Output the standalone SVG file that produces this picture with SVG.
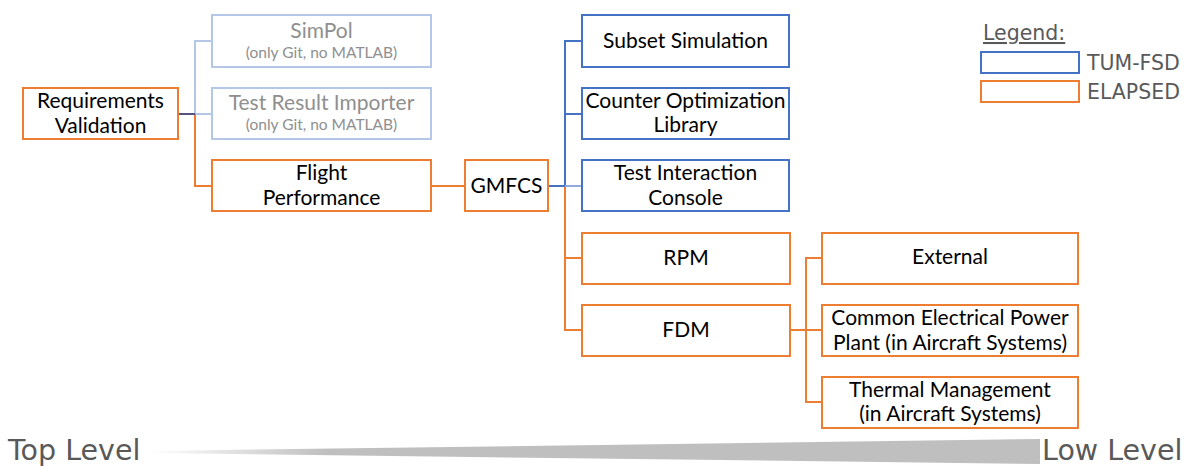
<svg xmlns="http://www.w3.org/2000/svg" width="1190" height="466" viewBox="0 0 1190 466">
<style>
  .box { fill: #ffffff; stroke-width: 2; }
  .or { stroke: #ED7D31; }
  .bl { stroke: #4472C4; }
  .lb { stroke: #B4C7E7; }
  .t { font-family: Lato, "Open Sans", sans-serif; font-size: 21px; fill: #000000; text-anchor: middle; }
  .tg { font-family: Lato, "Open Sans", sans-serif; font-size: 21px; fill: #8F8F8F; text-anchor: middle; }
  .ts { font-family: Lato, "Open Sans", sans-serif; font-size: 15.5px; fill: #8F8F8F; text-anchor: middle; }
  .leg { font-family: "DejaVu Sans", Verdana, sans-serif; font-size: 20.5px; fill: #595959; }
  .lvl { font-family: "DejaVu Sans", Verdana, sans-serif; font-size: 28.5px; fill: #595959; }
  .c { fill: none; stroke-width: 2; }
</style>
<defs>
  <linearGradient id="wedge" x1="150" y1="0" x2="1040" y2="0" gradientUnits="userSpaceOnUse">
    <stop offset="0" stop-color="#FFFFFF"/>
    <stop offset="0.2" stop-color="#BFBFBF"/>
    <stop offset="1" stop-color="#BFBFBF"/>
  </linearGradient>
</defs>

<g id="connectors">
  <path class="c lb" d="M195,114 V41 H212 M195,114 H212"/>
  <path class="c or" d="M195,114 V186 H212"/>
  <path class="c" stroke="#55557F" d="M178,114 H195"/>
  <path class="c or" d="M431,186 H465"/>
  <path class="c bl" d="M548,186 H565 V41 H582 M565,114 H582"/>
  <path class="c" stroke="#8FAADC" d="M565,186 H582"/>
  <path class="c or" d="M565,187 V330 H582 M565,258 H582"/>
  <path class="c or" d="M790,330 H822 M806,330 V258 H822 M806,330 V402 H822"/>
</g>

<g id="requirements-validation">
  <rect class="box or" x="23" y="88" width="155" height="51"/>
  <text class="t" x="100.5" y="108">Requirements</text>
  <text class="t" x="100.5" y="133">Validation</text>
</g>
<g id="simpol">
  <rect class="box lb" x="212" y="15" width="219" height="52"/>
  <text class="tg" x="321.5" y="38">SimPol</text>
  <text class="ts" x="321.5" y="58">(only Git, no MATLAB)</text>
</g>
<g id="test-result-importer">
  <rect class="box lb" x="212" y="88" width="219" height="51"/>
  <text class="tg" x="321.5" y="110">Test Result Importer</text>
  <text class="ts" x="321.5" y="130">(only Git, no MATLAB)</text>
</g>
<g id="flight-performance">
  <rect class="box or" x="212" y="160" width="219" height="51"/>
  <text class="t" x="321.5" y="180">Flight</text>
  <text class="t" x="321.5" y="205">Performance</text>
</g>
<g id="gmfcs">
  <rect class="box or" x="465" y="160" width="83" height="51"/>
  <text class="t" x="506.5" y="193">GMFCS</text>
</g>
<g id="subset-simulation">
  <rect class="box bl" x="582" y="15" width="207" height="52"/>
  <text class="t" x="685.5" y="48">Subset Simulation</text>
</g>
<g id="counter-optimization-library">
  <rect class="box bl" x="582" y="88" width="207" height="51"/>
  <text class="t" x="685.5" y="108">Counter Optimization</text>
  <text class="t" x="685.5" y="132">Library</text>
</g>
<g id="test-interaction-console">
  <rect class="box bl" x="582" y="160" width="207" height="51"/>
  <text class="t" x="685.5" y="180">Test Interaction</text>
  <text class="t" x="685.5" y="205">Console</text>
</g>
<g id="rpm">
  <rect class="box or" x="582" y="233" width="208" height="51"/>
  <text class="t" x="686" y="265">RPM</text>
</g>
<g id="fdm">
  <rect class="box or" x="582" y="305" width="208" height="51"/>
  <text class="t" x="686" y="337">FDM</text>
</g>
<g id="external">
  <rect class="box or" x="822" y="233" width="256" height="51"/>
  <text class="t" x="950" y="264">External</text>
</g>
<g id="common-electrical-power-plant">
  <rect class="box or" x="822" y="305" width="256" height="51"/>
  <text class="t" x="950" y="325">Common Electrical Power</text>
  <text class="t" x="950" y="350">Plant (in Aircraft Systems)</text>
</g>
<g id="thermal-management">
  <rect class="box or" x="822" y="377" width="256" height="51"/>
  <text class="t" x="950" y="397">Thermal Management</text>
  <text class="t" x="950" y="421">(in Aircraft Systems)</text>
</g>

<g id="legend">
  <text class="leg" x="983" y="40" text-decoration="underline">Legend:</text>
  <rect class="box bl" x="981" y="52" width="98" height="21"/>
  <text class="leg" x="1087" y="70">TUM-FSD</text>
  <rect class="box or" x="981" y="81" width="98" height="21"/>
  <text class="leg" x="1087" y="99">ELAPSED</text>
</g>

<g id="level-scale">
  <polygon points="150,451 1040,439 1040,464 150,453" fill="url(#wedge)"/>
  <text class="lvl" x="8" y="460">Top Level</text>
  <text class="lvl" x="1042" y="460">Low Level</text>
</g>
</svg>
